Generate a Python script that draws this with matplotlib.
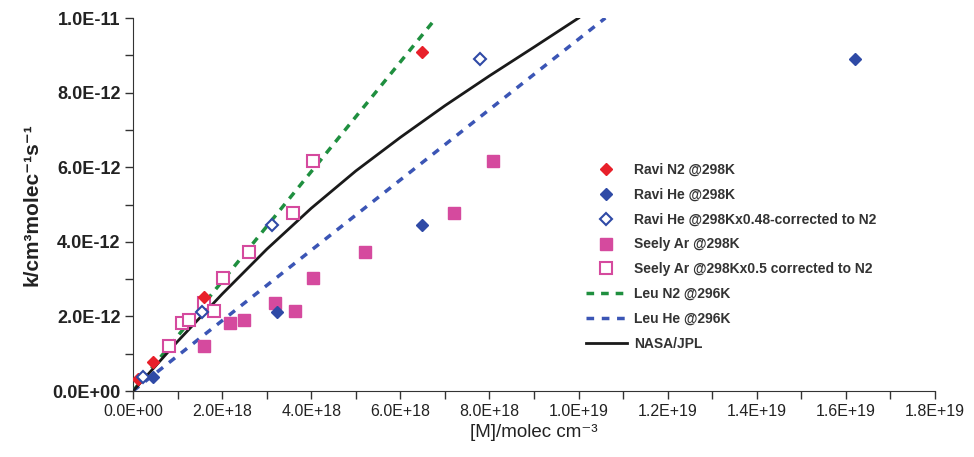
import numpy as np
import matplotlib
matplotlib.use("Agg")
import matplotlib.pyplot as plt
from matplotlib.ticker import FixedLocator, FuncFormatter

# --- data (x in molec cm-3, y in cm3 molec-1 s-1) ---
ravi_n2_x = [0.12e18, 0.45e18, 1.59e18, 6.48e18]
ravi_n2_y = [0.32e-12, 0.78e-12, 2.52e-12, 9.1e-12]

ravi_he_x = [0.45e18, 3.23e18, 6.48e18, 16.2e18]
ravi_he_y = [0.38e-12, 2.12e-12, 4.45e-12, 8.9e-12]

ravi_he_corr_x = [0.22e18, 1.55e18, 3.11e18, 7.78e18]
ravi_he_corr_y = [0.38e-12, 2.12e-12, 4.45e-12, 8.9e-12]

seely_ar_x = [1.59e18, 2.17e18, 2.49e18, 3.18e18, 3.63e18, 4.04e18, 5.2e18, 7.2e18, 8.07e18]
seely_ar_y = [1.21e-12, 1.82e-12, 1.90e-12, 2.36e-12, 2.14e-12, 3.03e-12, 3.72e-12, 4.77e-12, 6.17e-12]

seely_ar_corr_x = [0.80e18, 1.09e18, 1.25e18, 1.59e18, 1.82e18, 2.02e18, 2.6e18, 3.6e18, 4.04e18]
seely_ar_corr_y = [1.21e-12, 1.82e-12, 1.90e-12, 2.36e-12, 2.14e-12, 3.03e-12, 3.72e-12, 4.77e-12, 6.17e-12]

leu_n2_x = [0.0, 6.8e18]
leu_n2_y = [0.0, 1.0e-11]

leu_he_x = [0.0, 10.6e18]
leu_he_y = [0.0, 1.0e-11]

jpl_x = [0, 1.0e18, 2.0e18, 3.0e18, 4.0e18, 5.0e18, 6.0e18, 7.0e18, 8.0e18, 9.0e18, 10.0e18]
jpl_y = [0, 1.33e-12, 2.6e-12, 3.8e-12, 4.9e-12, 5.9e-12, 6.8e-12, 7.65e-12, 8.45e-12, 9.22e-12, 10.0e-12]

x_ticks = [0, 2e18, 4e18, 6e18, 8e18, 1.0e19, 1.2e19, 1.4e19, 1.6e19, 1.8e19]
x_minor = [1e18, 3e18, 5e18, 7e18, 9e18, 1.1e19, 1.3e19, 1.5e19, 1.7e19]
y_ticks = [0, 2e-12, 4e-12, 6e-12, 8e-12, 1.0e-11]
y_minor = [1e-12, 3e-12, 5e-12, 7e-12, 9e-12]

plt.rcParams['font.family'] = ['Liberation Sans', 'DejaVu Sans']

fig = plt.figure(figsize=(9.74, 4.57), dpi=100)
ax = fig.add_axes([0.1366, 0.1444, 0.8234, 0.8162])

ax.plot(ravi_n2_x, ravi_n2_y, 'D', color='#e8202a', ms=6.5, ls='none', label='Ravi N2 @298K', zorder=5)
ax.plot(ravi_he_x, ravi_he_y, 'D', color='#2f4aa6', ms=6.5, ls='none', label='Ravi He @298K', zorder=5)
ax.plot(ravi_he_corr_x, ravi_he_corr_y, 'D', mfc='white', mec='#2f4aa6', mew=1.5, ms=6.5, ls='none',
        label='Ravi He @298Kx0.48-corrected to N2', zorder=5)
ax.plot(seely_ar_x, seely_ar_y, 's', color='#d54a9e', ms=8, ls='none', label='Seely Ar @298K', zorder=4)
ax.plot(seely_ar_corr_x, seely_ar_corr_y, 's', mfc='white', mec='#d54a9e', mew=1.5, ms=8, ls='none',
        label='Seely Ar @298Kx0.5 corrected to N2', zorder=4)
ax.plot(leu_n2_x, leu_n2_y, color='#1f8f3f', lw=2.5, dashes=(2.2, 2.0), label='Leu N2 @296K', zorder=3)
ax.plot(leu_he_x, leu_he_y, color='#3b55b5', lw=2.5, dashes=(2.2, 2.2), label='Leu He @296K', zorder=3)
ax.plot(jpl_x, jpl_y, color='#1a1a1a', lw=2, label='NASA/JPL', zorder=3)

ax.set_xlim(0, 1.8e19)
ax.set_ylim(0, 1.0e-11)

ax.xaxis.set_major_locator(FixedLocator(x_ticks))
ax.xaxis.set_minor_locator(FixedLocator(x_minor))
ax.yaxis.set_major_locator(FixedLocator(y_ticks))
ax.yaxis.set_minor_locator(FixedLocator(y_minor))
ax.xaxis.set_major_formatter(FuncFormatter(lambda v, p: '%.1E' % v))
ax.yaxis.set_major_formatter(FuncFormatter(lambda v, p: '%.1E' % v))
ax.tick_params(which='both', direction='out', length=5.5, width=1, color='#333333')

for lbl in ax.get_xticklabels():
    lbl.set_fontsize(11.5)
    lbl.set_color('#222222')
for lbl in ax.get_yticklabels():
    lbl.set_fontsize(13)
    lbl.set_fontweight('bold')
    lbl.set_color('#222222')

ax.spines['top'].set_visible(False)
ax.spines['right'].set_visible(False)
ax.spines['left'].set_color('#333333')
ax.spines['bottom'].set_color('#333333')

ax.set_xlabel('[M]/molec cm\u207b\u00b3', fontsize=13.5, color='#222222', labelpad=4)
ax.set_ylabel('k/cm\u00b3molec\u207b\u00b9s\u207b\u00b9', fontsize=15, fontweight='bold',
              color='#222222', labelpad=8)

leg = ax.legend(loc='upper left', bbox_to_anchor=(0.5495, 0.645), frameon=False,
                prop={'weight': 'bold', 'size': 10}, labelspacing=0.78, handlelength=2.9,
                handletextpad=0.55, labelcolor='#333333')

fig.savefig('out.png', dpi=100)
